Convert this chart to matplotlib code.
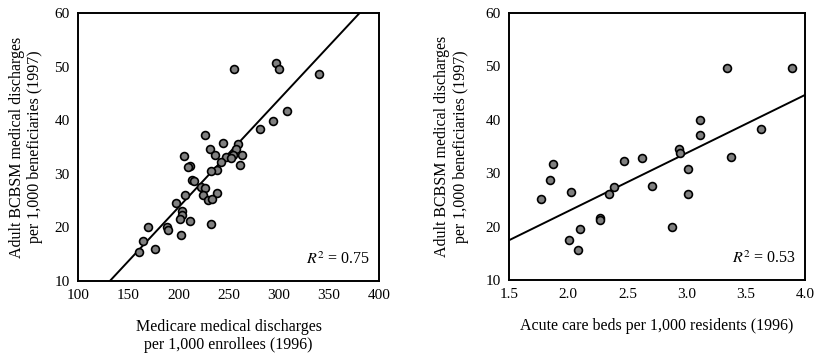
import numpy as np
import matplotlib
matplotlib.use("Agg")
import matplotlib.pyplot as plt

plt.rcParams['font.family'] = ['Liberation Serif', 'DejaVu Serif']
plt.rcParams['mathtext.fontset'] = 'stix'

# Left panel: Medicare discharges vs BCBSM discharges
medicare_x = [255.5, 297.3, 300.6, 340.2, 308.3, 294.0, 281.4, 226.3, 244.8, 259.5,
              231.5, 257.2, 205.3, 236.5, 247.2, 254.2, 263.2, 252.2, 242.5, 211.6,
              209.6, 261.2, 238.5, 232.9, 213.3, 215.6, 222.9, 226.6, 206.6, 224.3,
              238.8, 229.6, 233.9, 197.4, 204.0, 203.4, 201.7, 211.6, 232.3, 189.0,
              189.7, 169.8, 203.0, 165.1, 176.7, 160.5]
medicare_y = [49.6, 50.7, 49.6, 48.6, 41.7, 39.9, 38.3, 37.2, 35.7, 35.6,
              34.6, 34.6, 33.3, 33.5, 33.1, 33.5, 33.5, 32.9, 32.3, 31.5,
              31.2, 31.7, 30.7, 30.5, 28.8, 28.7, 27.5, 27.3, 26.1, 26.0,
              26.4, 25.2, 25.3, 24.6, 23.0, 22.3, 21.6, 21.2, 20.6, 20.1,
              19.6, 20.0, 18.6, 17.5, 16.0, 15.5]

# Right panel: acute care beds vs BCBSM discharges
beds_x = [1.773, 1.846, 1.869, 2.026, 2.007, 2.102, 2.083, 2.266, 2.266, 2.342,
          2.384, 2.471, 2.626, 2.710, 2.879, 2.936, 2.947, 3.014, 3.009, 3.110,
          3.110, 3.339, 3.375, 3.628, 3.888]
beds_y = [25.2, 28.7, 31.7, 26.5, 17.4, 19.6, 15.6, 21.6, 21.2, 26.0,
          27.4, 32.3, 32.9, 27.5, 19.9, 34.5, 33.7, 30.8, 26.0, 39.9,
          37.2, 49.6, 33.1, 38.2, 49.6]

left_ticks = [100, 150, 200, 250, 300, 350, 400]
right_ticks = [1.5, 2.0, 2.5, 3.0, 3.5, 4.0]
y_ticks = [10, 20, 30, 40, 50, 60]

ylabel = "Adult BCBSM medical discharges\nper 1,000 beneficiaries (1997)"

fig = plt.figure(figsize=(8.23, 3.58), dpi=100)
ax1 = fig.add_axes([0.0948, 0.215, 0.3657, 0.7486])
ax2 = fig.add_axes([0.6185, 0.218, 0.3597, 0.746])


def draw_panel(ax, x, y, xticks, xfmt, r2, xlabel, ypad):
    x = np.array(x)
    y = np.array(y)
    ax.scatter(x, y, s=32, facecolor='#808080', edgecolor='black',
               linewidth=1.2, zorder=3)
    slope, icpt = np.polyfit(x, y, 1)
    xs = np.array([xticks[0], xticks[-1]])
    ax.plot(xs, slope * xs + icpt, color='black', lw=1.4, zorder=2)
    ax.set_xlim(xticks[0], xticks[-1])
    ax.set_ylim(10, 60)
    ax.set_xticks(xticks)
    ax.set_xticklabels([xfmt.format(t) for t in xticks])
    ax.set_yticks(y_ticks)
    ax.tick_params(length=0, labelsize=11, pad=6)
    for s in ax.spines.values():
        s.set_linewidth(1.4)
    ax.text(0.97, 0.05, r"$R^2$ = " + r2, transform=ax.transAxes,
            ha='right', va='bottom', fontsize=11.5)
    ax.set_xlabel(xlabel, fontsize=11.5, labelpad=12)
    ax.set_ylabel(ylabel, fontsize=11.5, labelpad=ypad)


draw_panel(ax1, medicare_x, medicare_y, left_ticks, "{:.0f}", "0.75",
           "Medicare medical discharges\nper 1,000 enrollees (1996)", 8)
draw_panel(ax2, beds_x, beds_y, right_ticks, "{:.1f}", "0.53",
           "Acute care beds per 1,000 residents (1996)", 12)

fig.savefig("out.png", dpi=100)
